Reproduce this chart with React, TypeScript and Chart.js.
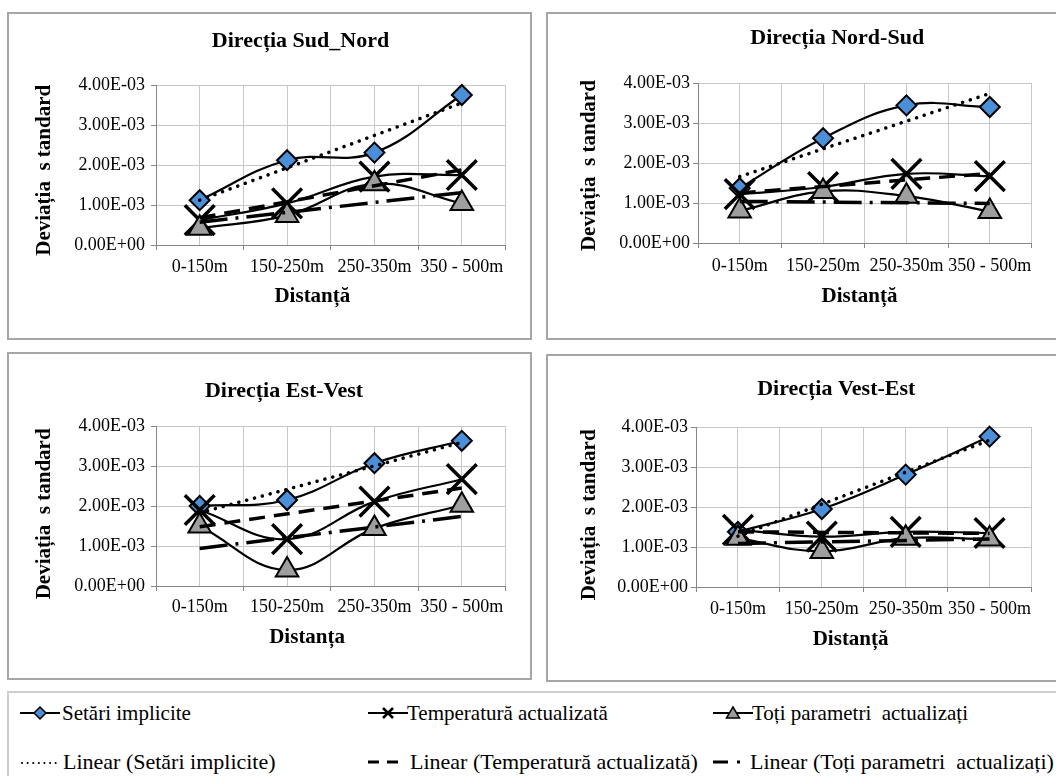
import React, { useEffect, useRef } from 'react';
import { Chart, registerables } from 'chart.js';

Chart.register(...registerables);

// ---------- data ----------
const categories = ['0-150m', '150-250m', '250-350m', '350 - 500m'];
const yTickLabels = ['0.00E+00', '1.00E-03', '2.00E-03', '3.00E-03', '4.00E-03'];
const seriesNames = ['Setări implicite', 'Temperatură actualizată', 'Toți parametri  actualizați'];
const trendNames = ['Linear (Setări implicite)', 'Linear (Temperatură actualizată)', 'Linear (Toți parametri  actualizați)'];
const yAxisTitle = 'Deviația  s tandard';

// Direcția Sud_Nord
const sudNordSetari = [1.12e-3, 2.12e-3, 2.31e-3, 3.75e-3];
const sudNordTemp = [0.62e-3, 1.04e-3, 1.71e-3, 1.75e-3];
const sudNordToti = [0.42e-3, 0.74e-3, 1.53e-3, 1.04e-3];
const sudNordTrendSetari = [1.12e-3, 3.55e-3];
const sudNordTrendTemp = [0.68e-3, 1.88e-3];
const sudNordTrendToti = [0.57e-3, 1.31e-3];

// Direcția Nord-Sud
const nordSudSetari = [1.37e-3, 2.62e-3, 3.44e-3, 3.4e-3];
const nordSudTemp = [1.22e-3, 1.4e-3, 1.73e-3, 1.67e-3];
const nordSudToti = [0.8e-3, 1.29e-3, 1.17e-3, 0.79e-3];
const nordSudTrendSetari = [1.66e-3, 3.74e-3];
const nordSudTrendTemp = [1.25e-3, 1.74e-3];
const nordSudTrendToti = [1.04e-3, 0.99e-3];

// Direcția Est-Vest
const estVestSetari = [2.0e-3, 2.15e-3, 3.07e-3, 3.63e-3];
const estVestTemp = [1.9e-3, 1.17e-3, 2.11e-3, 2.67e-3];
const estVestToti = [1.5e-3, 0.4e-3, 1.44e-3, 2.02e-3];
const estVestTrendSetari = [1.83e-3, 3.59e-3];
const estVestTrendTemp = [1.48e-3, 2.45e-3];
const estVestTrendToti = [0.94e-3, 1.74e-3];

// Direcția Vest-Est
const vestEstSetari = [1.38e-3, 1.95e-3, 2.81e-3, 3.76e-3];
const vestEstTemp = [1.43e-3, 1.26e-3, 1.38e-3, 1.35e-3];
const vestEstToti = [1.22e-3, 0.89e-3, 1.22e-3, 1.2e-3];
const vestEstTrendSetari = [1.27e-3, 3.67e-3];
const vestEstTrendTemp = [1.38e-3, 1.34e-3];
const vestEstTrendToti = [1.09e-3, 1.2e-3];

// ---------- styles ----------
const FONT = 'Liberation Serif';
const BLUE = '#4b8fd8';
const GRAYFILL = '#9e9e9e';
const GRID = '#c8c8c8';
const AXIS = '#868686';
const TITLE_SIZE = 22;
const AXIS_TITLE_SIZE = 21;
const TICK_SIZE = 18;
const TICK_LEN = 5;
const NBSP = '\u00A0';

type Box = { left: number; top: number; width: number; height: number; openRight: boolean };

const panels = [
  {
    key: 'sn', title: 'Direcția Sud_Nord', xTitle: 'Distanță',
    setari: sudNordSetari, temp: sudNordTemp, toti: sudNordToti,
    trendSetari: sudNordTrendSetari, trendTemp: sudNordTrendTemp, trendToti: sudNordTrendToti,
    box: { left: 7, top: 12, width: 525, height: 328, openRight: false },
    plot: { left: 156, right: 506, top: 85, bottom: 245 },
    titleY: 41.5, xLabelY: 267, xTitleY: 297, yTitleX: 45,
    titleShift: 11, xTitleShift: 7, yTitleShift: 2, yTickPad: 6,
  },
  {
    key: 'ns', title: 'Direcția Nord-Sud', xTitle: 'Distanță',
    setari: nordSudSetari, temp: nordSudTemp, toti: nordSudToti,
    trendSetari: nordSudTrendSetari, trendTemp: nordSudTrendTemp, trendToti: nordSudTrendToti,
    box: { left: 546, top: 12, width: 510, height: 328, openRight: true },
    plot: { left: 698, right: 1046, top: 83, bottom: 243 },
    titleY: 38.5, xLabelY: 266.5, xTitleY: 296.5, yTitleX: 590,
    titleShift: 10, xTitleShift: 2, yTitleShift: 1, yTickPad: 3,
  },
  {
    key: 'ev', title: 'Direcția Est-Vest', xTitle: 'Distanța',
    setari: estVestSetari, temp: estVestTemp, toti: estVestToti,
    trendSetari: estVestTrendSetari, trendTemp: estVestTrendTemp, trendToti: estVestTrendToti,
    box: { left: 7, top: 352, width: 525, height: 328, openRight: false },
    plot: { left: 156, right: 506, top: 426, bottom: 586 },
    titleY: 391.5, xLabelY: 607, xTitleY: 638, yTitleX: 45,
    titleShift: 17, xTitleShift: 9, yTitleShift: 3, yTickPad: 6,
  },
  {
    key: 've', title: 'Direcția Vest-Est', xTitle: 'Distanță',
    setari: vestEstSetari, temp: vestEstTemp, toti: vestEstToti,
    trendSetari: vestEstTrendSetari, trendTemp: vestEstTrendTemp, trendToti: vestEstTrendToti,
    box: { left: 546, top: 354, width: 510, height: 328, openRight: true },
    plot: { left: 696, right: 1044, top: 427, bottom: 587 },
    titleY: 389, xLabelY: 609, xTitleY: 640, yTitleX: 590,
    titleShift: 10, xTitleShift: 5, yTitleShift: 3, yTickPad: 3,
  },
];

type PanelSpec = typeof panels[number];

function innerSize(box: Box) {
  return { w: box.width - (box.openRight ? 2 : 4), h: box.height - 4 };
}

function trendData(pair: number[]) {
  return [pair[0], null, null, pair[1]];
}

function buildConfig(spec: PanelSpec): any {
  const ox = spec.box.left + 2;
  const oy = spec.box.top + 2;
  const { w: cw, h: ch } = innerSize(spec.box);
  const cl = spec.plot.left - ox;
  const cr = spec.plot.right - ox;
  const ct = spec.plot.top - oy;
  const cb = spec.plot.bottom - oy;

  const titleLH = TITLE_SIZE * 1.2;
  const titlePadTop = spec.titleY - oy - titleLH / 2;
  const titlePadBottom = Math.max(0, ct - titlePadTop - titleLH);

  const axLH = AXIS_TITLE_SIZE * 1.2;
  const yTitlePad = spec.yTitleX - ox - axLH / 2;
  const tickLH = TICK_SIZE * 1.2;
  const xTickPad = spec.xLabelY - oy - cb - TICK_LEN - tickLH / 2;
  const xTitlePadBottom = ch - (spec.xTitleY - oy) - axLH / 2;

  const lineBase = {
    borderColor: '#000', borderWidth: 2.2, tension: 0.4, fill: false,
    pointBorderColor: '#000', clip: false,
  };
  const trendBase = {
    borderColor: '#000', borderWidth: 3.5, tension: 0, fill: false,
    pointRadius: 0, spanGaps: true, clip: false, order: 0,
  };

  return {
    type: 'line',
    data: {
      labels: categories,
      datasets: [
        { ...lineBase, label: seriesNames[0], data: spec.setari, pointStyle: 'rectRot', pointRadius: 10, pointBackgroundColor: BLUE, pointBorderWidth: 2, order: 3 },
        { ...lineBase, label: seriesNames[1], data: spec.temp, pointStyle: 'crossRot', pointRadius: 21, pointBorderWidth: 3.5, order: 2 },
        { ...lineBase, label: seriesNames[2], data: spec.toti, pointStyle: 'triangle', pointRadius: 13, pointBackgroundColor: GRAYFILL, pointBorderWidth: 2, order: 1 },
        { ...trendBase, label: trendNames[0], data: trendData(spec.trendSetari), borderDash: [0.1, 8], borderCapStyle: 'round' },
        { ...trendBase, label: trendNames[1], data: trendData(spec.trendTemp), borderDash: [16, 9] },
        { ...trendBase, label: trendNames[2], data: trendData(spec.trendToti), borderDash: [28, 8, 3, 8] },
      ],
    },
    options: {
      responsive: false,
      animation: false,
      events: [],
      devicePixelRatio: 1,
      layout: { padding: { left: 0, top: 0, right: cw - cr, bottom: 0 } },
      plugins: {
        legend: { display: false },
        tooltip: { enabled: false },
        title: {
          display: true, fullSize: false,
          text: spec.title + NBSP.repeat(spec.titleShift), color: '#000',
          font: { family: FONT, size: TITLE_SIZE, weight: 'bold' },
          padding: { top: titlePadTop, bottom: titlePadBottom },
        },
      },
      scales: {
        x: {
          type: 'category', offset: true,
          grid: { offset: true, color: GRID, tickColor: AXIS, tickLength: TICK_LEN, lineWidth: 1 },
          border: { color: AXIS, width: 1 },
          ticks: { font: { family: FONT, size: TICK_SIZE }, color: '#000', padding: xTickPad, autoSkip: false, maxRotation: 0, minRotation: 0 },
          title: {
            display: true, text: spec.xTitle + NBSP.repeat(spec.xTitleShift), color: '#000',
            font: { family: FONT, size: AXIS_TITLE_SIZE, weight: 'bold' },
            padding: { top: 0, bottom: xTitlePadBottom },
          },
          afterFit: (s: any) => { s.height = ch - cb; },
        },
        x2: {
          type: 'category', position: 'bottom', offset: true,
          grid: { offset: false, color: GRID, drawTicks: false, lineWidth: 1 },
          border: { display: false },
          ticks: { display: false },
          afterFit: (s: any) => { s.height = 0; },
        },
        y: {
          min: 0, max: 0.004,
          ticks: {
            stepSize: 0.001, color: '#000', padding: spec.yTickPad,
            font: { family: FONT, size: TICK_SIZE },
            callback: (_v: any, i: number) => yTickLabels[i],
          },
          grid: { color: GRID, tickColor: AXIS, tickLength: TICK_LEN, lineWidth: 1 },
          border: { color: AXIS, width: 1 },
          title: {
            display: true, text: yAxisTitle + NBSP.repeat(spec.yTitleShift), color: '#000',
            font: { family: FONT, size: AXIS_TITLE_SIZE, weight: 'bold' },
            padding: { top: yTitlePad, bottom: 0 },
          },
          afterFit: (s: any) => { s.width = cl; },
        },
      },
    },
  };
}

function Panel({ spec }: { spec: PanelSpec }) {
  const ref = useRef<HTMLCanvasElement>(null);
  useEffect(() => {
    const chart = new Chart(ref.current as HTMLCanvasElement, buildConfig(spec));
    return () => chart.destroy();
  }, [spec]);
  const { w, h } = innerSize(spec.box);
  const b = '2px solid #a6a6a6';
  return (
    <div
      style={{
        position: 'absolute', left: spec.box.left, top: spec.box.top,
        width: spec.box.width, height: spec.box.height, boxSizing: 'border-box',
        borderTop: b, borderLeft: b, borderBottom: b, borderRight: spec.box.openRight ? 'none' : b,
        background: '#fff', overflow: 'hidden',
      }}
    >
      <canvas ref={ref} width={w} height={h} style={{ display: 'block', width: w, height: h }} />
    </div>
  );
}

// ---------- legend ----------
type SampleKind = 'setari' | 'temp' | 'toti' | 'dot' | 'dash' | 'dashdot';

function Sample({ kind }: { kind: SampleKind }) {
  return (
    <svg width={40} height={20} viewBox="0 0 40 20" style={{ display: 'block' }}>
      {kind === 'setari' && (
        <>
          <line x1={0} y1={10} x2={40} y2={10} stroke="#000" strokeWidth={2} />
          <polygon points="20,4 26,10 20,16 14,10" fill={BLUE} stroke="#000" strokeWidth={1.5} />
        </>
      )}
      {kind === 'temp' && (
        <>
          <line x1={0} y1={10} x2={40} y2={10} stroke="#000" strokeWidth={2} />
          <line x1={15} y1={5} x2={25} y2={15} stroke="#000" strokeWidth={2.5} />
          <line x1={25} y1={5} x2={15} y2={15} stroke="#000" strokeWidth={2.5} />
        </>
      )}
      {kind === 'toti' && (
        <>
          <line x1={0} y1={10} x2={40} y2={10} stroke="#000" strokeWidth={2} />
          <polygon points="20,4 26.5,15 13.5,15" fill={GRAYFILL} stroke="#000" strokeWidth={1.5} />
        </>
      )}
      {kind === 'dot' && (
        <line x1={2} y1={11} x2={38} y2={11} stroke="#000" strokeWidth={2} strokeDasharray="0.1 5.5" strokeLinecap="round" />
      )}
      {kind === 'dash' && (
        <line x1={0} y1={10} x2={34} y2={10} stroke="#000" strokeWidth={3} strokeDasharray="11 8" />
      )}
      {kind === 'dashdot' && (
        <line x1={0} y1={10} x2={36} y2={10} stroke="#000" strokeWidth={3} strokeDasharray="15 9 3 9" />
      )}
    </svg>
  );
}

const legendItems: { kind: SampleKind; text: string; sx: number; tx: number; y: number; size: number }[] = [
  { kind: 'setari', text: seriesNames[0], sx: 20, tx: 62, y: 713, size: 21 },
  { kind: 'temp', text: seriesNames[1], sx: 368, tx: 407, y: 713, size: 21 },
  { kind: 'toti', text: seriesNames[2], sx: 713, tx: 752, y: 713, size: 21 },
  { kind: 'dot', text: trendNames[0], sx: 20, tx: 63, y: 762, size: 22 },
  { kind: 'dash', text: trendNames[1], sx: 368, tx: 410, y: 762, size: 22 },
  { kind: 'dashdot', text: trendNames[2], sx: 713, tx: 750, y: 762, size: 22 },
];

function Legend() {
  const b = '2px solid #cdcdcd';
  return (
    <>
      <div
        style={{
          position: 'absolute', left: 7, top: 691, width: 1049, height: 85,
          boxSizing: 'border-box', borderTop: b, borderLeft: b, background: '#fff',
        }}
      />
      {legendItems.map((it, i) => (
        <React.Fragment key={i}>
          <div style={{ position: 'absolute', left: it.sx, top: it.y - 10, width: 40, height: 20 }}>
            <Sample kind={it.kind} />
          </div>
          <div
            style={{
              position: 'absolute', left: it.tx, top: it.y - 13, height: 26, lineHeight: '26px',
              fontFamily: FONT, fontSize: it.size, color: '#000', whiteSpace: 'pre',
            }}
          >
            {it.text}
          </div>
        </React.Fragment>
      ))}
    </>
  );
}

export default function App() {
  useEffect(() => {
    document.body.style.overflow = 'hidden';
  }, []);
  return (
    <div style={{ position: 'absolute', left: 0, top: 0, width: 1056, height: 776, overflow: 'hidden', background: '#fff', fontFamily: FONT }}>
      {panels.map((p) => (
        <Panel key={p.key} spec={p} />
      ))}
      <Legend />
    </div>
  );
}
